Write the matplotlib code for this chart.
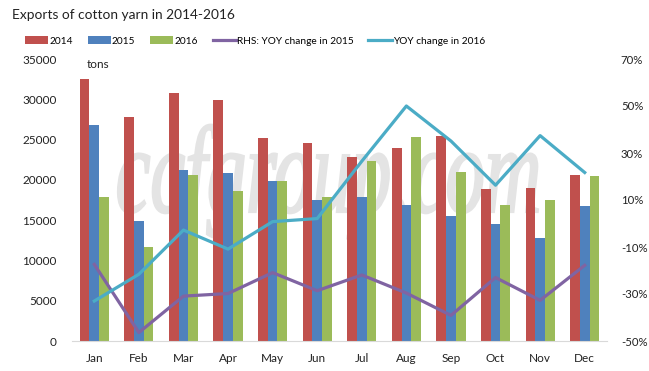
import numpy as np
import matplotlib
matplotlib.use('Agg')
import matplotlib.pyplot as plt
from matplotlib.textpath import TextPath
from matplotlib.patches import PathPatch
from matplotlib.font_manager import FontProperties
import matplotlib.transforms as mtrans

# data
months = ['Jan', 'Feb', 'Mar', 'Apr', 'May', 'Jun', 'Jul', 'Aug', 'Sep', 'Oct', 'Nov', 'Dec']
exp_2014 = [32470, 27770, 30740, 29870, 25180, 24560, 22830, 23940, 25430, 18870, 19000, 20600]
exp_2015 = [26790, 14920, 21220, 20850, 19860, 17510, 17890, 16900, 15540, 14550, 12820, 16770]
exp_2016 = [17920, 11700, 20600, 18630, 19860, 17890, 22340, 25300, 20980, 16900, 17510, 20480]
yoy_2015 = [-17.4, -46.4, -30.9, -29.8, -20.9, -28.6, -21.9, -29.6, -39.1, -23.0, -32.7, -17.8]
yoy_2016 = [-33.0, -21.6, -2.8, -10.9, 0.8, 2.1, 26.5, 50.0, 35.1, 16.3, 37.4, 21.7]

left_ticks = np.arange(0, 35001, 5000)
right_ticks = np.arange(-50, 71, 20)

c14, c15, c16 = '#C0504D', '#4F81BD', '#9BBB59'
cp, ct = '#8064A2', '#4BACC6'

plt.rcParams['font.family'] = ['Lato', 'DejaVu Sans']

fig = plt.figure(figsize=(6.49, 3.71), dpi=100)
ax = fig.add_axes([72/649, 30/371, 535/649, 282/371])
ax2 = ax.twinx()
ax.patch.set_visible(False)

# watermark, squeezed sideways like the original
tp = TextPath((0, 0), 'ccfgroup.com', size=1,
              prop=FontProperties(family='Liberation Serif', style='italic'))
ext = tp.get_extents()
sx = 4.2 / ext.width
sy = 1.24
tr = mtrans.Affine2D().translate(-ext.x0, 0).scale(sx, sy).translate(1.18, 1.59)
wm = PathPatch(tp, facecolor='#e4e4e4', edgecolor='#e4e4e4', lw=1.6, zorder=-5,
               transform=tr + fig.dpi_scale_trans)
fig.add_artist(wm)

x = np.arange(len(months))
w = 0.218
b1 = ax.bar(x - w, exp_2014, w, color=c14, label='2014')
b2 = ax.bar(x, exp_2015, w, color=c15, label='2015')
b3 = ax.bar(x + w, exp_2016, w, color=c16, label='2016')

l1, = ax2.plot(x, yoy_2015, color=cp, lw=2.3, label='RHS: YOY change in 2015')
l2, = ax2.plot(x, yoy_2016, color=ct, lw=2.3, label='YOY change in 2016')

ax.set_xlim(-0.5, 11.5)
ax.set_ylim(0, 35000)
ax2.set_ylim(-50, 70)
ax.set_xticks(x)
ax.set_xticklabels(months)
ax.set_yticks(left_ticks)
ax2.set_yticks(right_ticks)
ax2.set_yticklabels(['%d%%' % v for v in right_ticks])

for a in (ax, ax2):
    for s in ['top', 'left', 'right', 'bottom']:
        a.spines[s].set_visible(False)
    a.tick_params(length=0, labelsize=8.5, colors='#222222')
ax.spines['bottom'].set_visible(True)
ax.spines['bottom'].set_color('#d9d9d9')
ax.tick_params(axis='x', pad=9)
ax.tick_params(axis='y', pad=11)
ax2.tick_params(axis='y', pad=10, labelsize=8.2)

fig.text(12/649, 1 - 15/371, 'Exports of cotton yarn in 2014-2016', fontsize=9.9,
         ha='left', va='center', color='#222222')
fig.text(87/649, 1 - 64/371, 'tons', fontsize=8.5, ha='left', va='center', color='#222222')

fig.legend(handles=[b1, b2, b3, l1, l2], loc='center left',
           bbox_to_anchor=(25/649, 1 - 41/371), ncol=5, frameon=False,
           fontsize=7.3, handlelength=2.3, handleheight=0.8, handletextpad=0.1,
           columnspacing=1.45, borderaxespad=0, borderpad=0)

fig.savefig('out.png', dpi=100)
